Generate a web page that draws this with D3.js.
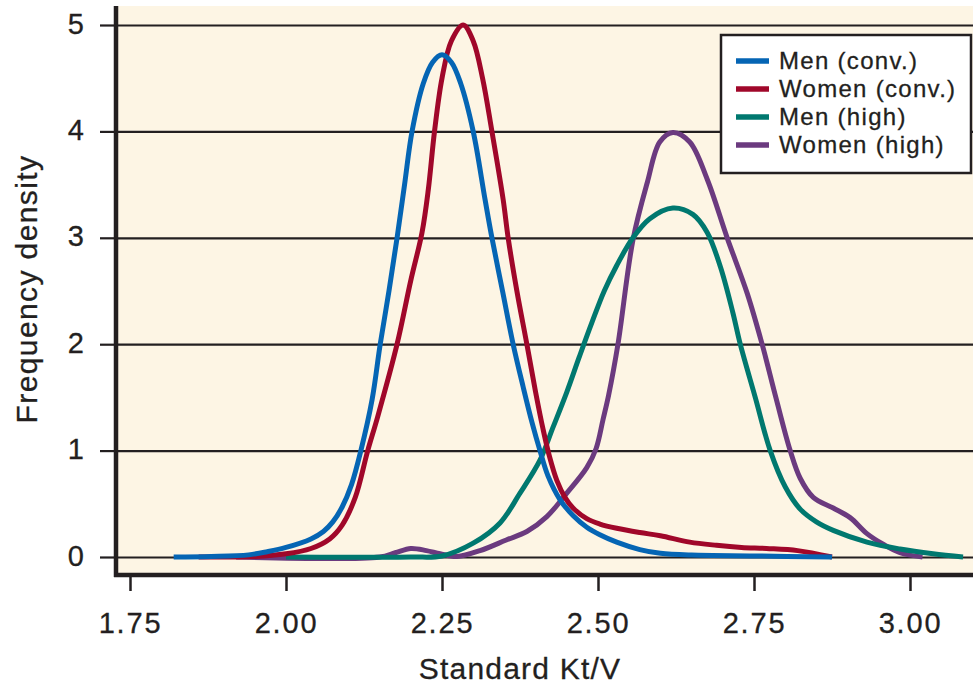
<!DOCTYPE html>
<html>
<head>
<meta charset="utf-8">
<script src="https://cdn.jsdelivr.net/npm/d3@7"></script>
<style>
  html, body { margin: 0; padding: 0; background: #fff; }
  svg { display: block; font-family: "Liberation Sans", Arial, Helvetica, sans-serif; }
  svg text { stroke: #231f20; stroke-width: 0.3px; }
</style>
</head>
<body>
<div id="chart"></div>
<script>
// data: [Kt/V, frequency density]
const menConv = [
  [1.82, 0], [1.88, 0.005], [1.94, 0.02], [1.97, 0.05], [2.00, 0.09], [2.04, 0.17],
  [2.06, 0.24], [2.075, 0.33], [2.09, 0.47], [2.105, 0.68], [2.12, 1.0], [2.138, 1.48],
  [2.151, 2.0], [2.165, 2.5], [2.178, 3.0], [2.19, 3.5], [2.202, 4.0], [2.22, 4.45],
  [2.235, 4.65], [2.25, 4.72], [2.265, 4.65], [2.28, 4.45], [2.30, 4.0], [2.319, 3.36],
  [2.33, 3.0], [2.347, 2.5], [2.364, 2.0], [2.38, 1.6], [2.394, 1.27], [2.407, 1.0],
  [2.42, 0.76], [2.439, 0.54], [2.46, 0.39], [2.482, 0.28], [2.503, 0.21], [2.53, 0.14],
  [2.567, 0.07], [2.60, 0.035], [2.65, 0.018], [2.75, 0.01], [2.875, 0]
];
const womenConv = [
  [1.86, 0], [1.95, 0.005], [2.00, 0.03], [2.04, 0.08], [2.07, 0.17], [2.09, 0.3],
  [2.111, 0.56], [2.131, 1.0], [2.147, 1.32], [2.178, 2.0], [2.20, 2.6], [2.218, 3.05],
  [2.228, 3.45], [2.238, 4.0], [2.25, 4.5], [2.265, 4.85], [2.284, 5.0], [2.30, 4.85],
  [2.315, 4.5], [2.33, 4.0], [2.348, 3.36], [2.356, 3.0], [2.37, 2.5], [2.386, 2.0],
  [2.40, 1.55], [2.412, 1.2], [2.422, 0.95], [2.434, 0.72], [2.447, 0.56], [2.46, 0.46],
  [2.482, 0.36], [2.503, 0.31], [2.53, 0.27], [2.567, 0.23], [2.60, 0.2], [2.647, 0.14],
  [2.69, 0.11], [2.73, 0.09], [2.77, 0.08], [2.82, 0.06], [2.875, 0]
];
const menHigh = [
  [2.00, 0], [2.20, 0], [2.25, 0.01], [2.30, 0.13], [2.343, 0.32], [2.375, 0.6],
  [2.407, 0.91], [2.428, 1.22], [2.45, 1.55], [2.47, 1.88], [2.49, 2.2], [2.51, 2.5],
  [2.53, 2.74], [2.556, 3.0], [2.583, 3.18], [2.62, 3.28], [2.652, 3.22], [2.675, 3.05],
  [2.696, 2.73], [2.716, 2.3], [2.728, 2.0], [2.752, 1.5], [2.776, 1.0], [2.80, 0.66],
  [2.824, 0.45], [2.85, 0.33], [2.877, 0.25], [2.931, 0.14], [2.984, 0.075], [3.037, 0.03],
  [3.085, 0]
];
const womenHigh = [
  [1.92, 0], [2.15, 0], [2.175, 0.04], [2.20, 0.08], [2.225, 0.06], [2.247, 0.03],
  [2.274, 0.005], [2.311, 0.06], [2.353, 0.16], [2.386, 0.24], [2.418, 0.38], [2.45, 0.6],
  [2.482, 0.84], [2.497, 1.02], [2.508, 1.29], [2.517, 1.52], [2.532, 2.0], [2.556, 2.98],
  [2.579, 3.52], [2.599, 3.9], [2.62, 3.99], [2.647, 3.9], [2.675, 3.55], [2.707, 3.0],
  [2.739, 2.48], [2.763, 2.0], [2.785, 1.5], [2.808, 1.0], [2.824, 0.74], [2.845, 0.56],
  [2.877, 0.46], [2.904, 0.37], [2.931, 0.22], [2.957, 0.12], [2.984, 0.04], [3.02, 0]
];

const seriesNames = ["Men (conv.)", "Women (conv.)", "Men (high)", "Women (high)"];
const seriesColors = ["#0565b4", "#a0072a", "#00786f", "#6b3a7f"];
const seriesData = [menConv, womenConv, menHigh, womenHigh];

const xTicks = [1.75, 2.00, 2.25, 2.50, 2.75, 3.00];
const yTicks = [0, 1, 2, 3, 4, 5];
const xTitle = "Standard Kt/V";
const yTitle = "Frequency density";

const W = 973, H = 686;
const frame = {left: 116, right: 973, top: 6, bottom: 575};

const svg = d3.select("#chart")
  .append("svg")
  .attr("width", W)
  .attr("height", H);

const x = d3.scaleLinear().domain([1.75, 3.0]).range([130, 910]);
const y = d3.scaleLinear().domain([0, 5]).range([557, 25]);

// cream plot background
svg.append("rect")
  .attr("x", frame.left)
  .attr("y", frame.top)
  .attr("width", frame.right - frame.left)
  .attr("height", frame.bottom - frame.top)
  .attr("fill", "#fdf5e4");

// left ticks + labels
const yAxis = svg.append("g")
  .attr("transform", `translate(${frame.left},0)`)
  .call(d3.axisLeft(y).tickValues(yTicks).tickSize(16).tickPadding(15).tickFormat(d3.format("d")));
yAxis.select(".domain").remove();
yAxis.selectAll(".tick line").attr("stroke", "#231f20").attr("stroke-width", 2.2);
yAxis.selectAll(".tick text")
  .attr("dy", null)
  .attr("y", 8)
  .attr("fill", "#231f20")
  .style("font-size", "29px")
  .style("letter-spacing", "1px");

// gridlines
svg.append("g")
  .attr("transform", `translate(${frame.left},0)`)
  .call(d3.axisRight(y).tickValues(yTicks).tickSize(frame.right - frame.left).tickFormat(""))
  .call(g => g.select(".domain").remove())
  .selectAll(".tick line")
  .attr("stroke", "#231f20")
  .attr("stroke-width", 2.2);

// bottom axis
const xAxis = svg.append("g")
  .attr("transform", `translate(0,${frame.bottom})`)
  .call(d3.axisBottom(x).tickValues(xTicks).tickSize(16).tickFormat(d3.format(".2f")));
xAxis.select(".domain").remove();
xAxis.selectAll(".tick line").attr("stroke", "#231f20").attr("stroke-width", 2.5);
xAxis.selectAll(".tick text")
  .attr("dy", null)
  .attr("y", 58)
  .attr("fill", "#231f20")
  .style("font-size", "29px")
  .style("letter-spacing", "1.8px");

// curves
const line = d3.line()
  .x(d => x(d[0]))
  .y(d => y(d[1]))
  .curve(d3.curveCatmullRom.alpha(0.5));

const drawOrder = [3, 2, 1, 0];
svg.append("g")
  .selectAll("path")
  .data(drawOrder)
  .join("path")
  .attr("d", i => line(seriesData[i]))
  .attr("fill", "none")
  .attr("stroke", i => seriesColors[i])
  .attr("stroke-width", 5)
  .attr("stroke-linejoin", "round")
  .attr("stroke-linecap", "butt");

// frame lines
svg.append("line")
  .attr("x1", frame.left).attr("x2", frame.left)
  .attr("y1", frame.top).attr("y2", frame.bottom + 2)
  .attr("stroke", "#231f20").attr("stroke-width", 4.5);
svg.append("line")
  .attr("x1", frame.left - 2).attr("x2", frame.right)
  .attr("y1", frame.bottom).attr("y2", frame.bottom)
  .attr("stroke", "#231f20").attr("stroke-width", 4.5);

// axis titles
svg.append("text")
  .attr("x", 520)
  .attr("y", 679)
  .attr("text-anchor", "middle")
  .attr("fill", "#231f20")
  .style("font-size", "30px")
  .style("letter-spacing", "1.2px")
  .text(xTitle);

svg.append("text")
  .attr("transform", "translate(37,289) rotate(-90)")
  .attr("text-anchor", "middle")
  .attr("fill", "#231f20")
  .style("font-size", "30px")
  .style("letter-spacing", "1.4px")
  .text(yTitle);

// legend
const legend = svg.append("g").attr("transform", "translate(721,35)");
legend.append("rect")
  .attr("width", 250)
  .attr("height", 138)
  .attr("fill", "#fff")
  .attr("stroke", "#231f20")
  .attr("stroke-width", 2.5);

const rows = legend.selectAll("g.row")
  .data(seriesNames)
  .join("g")
  .attr("class", "row")
  .attr("transform", (d, i) => `translate(0,${34 + i * 28})`);

rows.append("line")
  .attr("x1", 15).attr("x2", 48)
  .attr("y1", -8).attr("y2", -8)
  .attr("stroke", (d, i) => seriesColors[i])
  .attr("stroke-width", 5.5);

rows.append("text")
  .attr("x", 58)
  .attr("y", 0)
  .attr("fill", "#231f20")
  .style("font-size", "24px")
  .style("letter-spacing", "1.3px")
  .text(d => d);
</script>
</body>
</html>
